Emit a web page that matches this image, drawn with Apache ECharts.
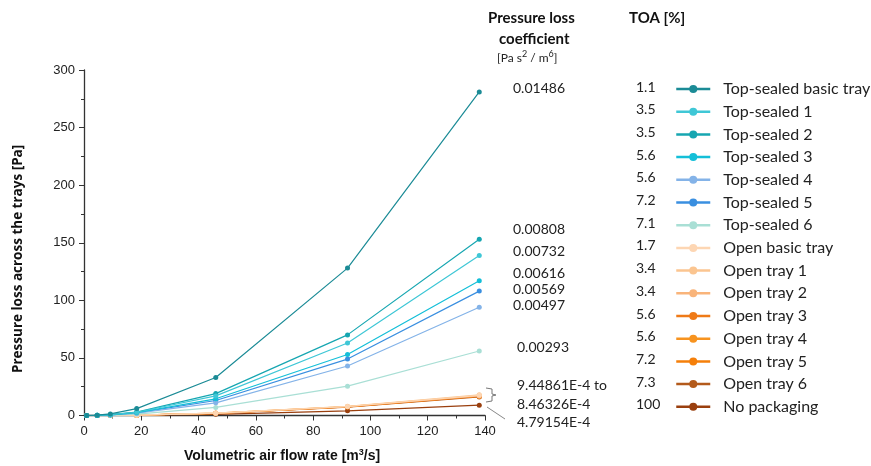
<!DOCTYPE html>
<html>
<head>
<meta charset="utf-8">
<script src="https://cdn.jsdelivr.net/npm/echarts@6/dist/echarts.min.js"></script>
<style>html,body{margin:0;padding:0;background:#fff}#c{width:871px;height:466px}</style>
</head>
<body>
<div id="c"></div>
<script>
const flowRates = [0.92, 4.6, 9.2, 18.4, 46, 92, 138];
const seriesNames = ['Top-sealed basic tray','Top-sealed 1','Top-sealed 2','Top-sealed 3','Top-sealed 4','Top-sealed 5','Top-sealed 6','Open basic tray','Open tray 1','Open tray 2','Open tray 3','Open tray 4','Open tray 5','Open tray 6','No packaging'];
const toaValues = ['1.1','3.5','3.5','5.6','5.6','7.2','7.1','1.7','3.4','3.4','5.6','5.6','7.2','7.3','100'];
const tsBasic = [0, 0.3, 1.4, 6.0, 33, 128, 281];
const ts1 = [0, 0.2, 0.7, 2.8, 17, 63, 139];
const ts2 = [0, 0.2, 0.7, 3.0, 19, 70, 153];
const ts3 = [0, 0.2, 0.6, 2.5, 14.5, 53, 117];
const ts4 = [0, 0.1, 0.5, 2.0, 11, 43, 94];
const ts5 = [0, 0.1, 0.5, 2.2, 13, 49, 108];
const ts6 = [0, 0.1, 0.3, 1.2, 7, 25.5, 56];
const openBasic = [0, 0, 0.1, 0.3, 2.0, 7.8, 17.5];
const open1 = [0, 0, 0.1, 0.3, 2.1, 8.0, 18.0];
const open2 = [0, 0, 0.1, 0.3, 1.9, 7.6, 17.0];
const open3 = [0, 0, 0.1, 0.3, 1.9, 7.4, 16.5];
const open4 = [0, 0, 0.1, 0.3, 2.0, 7.7, 17.2];
const open5 = [0, 0, 0.1, 0.3, 1.9, 7.5, 16.8];
const open6 = [0, 0, 0.1, 0.3, 1.8, 7.2, 16.1];
const noPack = [0, 0, 0.05, 0.2, 1.0, 4.1, 9.0];
const coefLabels = ['0.01486','0.00808','0.00732','0.00616','0.00569','0.00497','0.00293','9.44861E-4 to','8.46326E-4','4.79154E-4'];
const xTicks = [0, 20, 40, 60, 80, 100, 120, 140];
const yTicks = [0, 50, 100, 150, 200, 250, 300];

const allValues = [tsBasic, ts1, ts2, ts3, ts4, ts5, ts6, openBasic, open1, open2, open3, open4, open5, open6, noPack];
const colors = ['#1b8b96','#3fc7d6','#16a6b1','#14bfd8','#84b3e8','#3a8fe0','#a9dfd5','#fdd6b3','#fbc590','#f9b47a','#ef7a17','#f7931f','#f57f0a','#b35a1b','#9a3f0e'];

const chart = echarts.init(document.getElementById('c'), null, {renderer: 'canvas'});

const series = seriesNames.map((name, i) => ({
  name: name,
  type: 'line',
  data: flowRates.map((x, j) => [x, allValues[i][j]]),
  symbol: 'circle',
  symbolSize: 5,
  showSymbol: true,
  lineStyle: {width: 1.2, color: colors[i]},
  itemStyle: {color: colors[i]},
  z: 20 - i,
  animation: false
}));

const legendTop = 81;
const rowH = 22.7;
const FONT = 'Lato, "Open Sans", sans-serif';
const graphics = [];
toaValues.forEach((t, i) => {
  graphics.push({type: 'text', left: 636, top: legendTop + i * rowH - 1,
    style: {text: t, font: '14px ' + FONT, fill: '#222'}});
});
const coefY = [90, 231, 253, 275, 291, 307, 349, 387, 406, 424];
const coefX = [513, 513, 513, 513, 513, 513, 517, 517, 517, 517];
coefLabels.forEach((t, i) => {
  graphics.push({type: 'text', left: coefX[i], top: coefY[i] - 9,
    style: {text: t, font: '14px ' + FONT, fill: '#222'}});
});
graphics.push(
  {type: 'text', left: 488, top: 11, style: {text: 'Pressure loss', font: 'bold 15px ' + FONT, fill: '#111'}},
  {type: 'text', left: 499, top: 32, style: {text: 'coefficient', font: 'bold 15px ' + FONT, fill: '#111'}},
  {type: 'text', left: 497, top: 50, style: {
    text: '[Pa s{sup|2} / m{sup|6}]',
    font: '12px ' + FONT, fill: '#222',
    rich: {sup: {fontSize: 9, fontFamily: 'Lato, "Open Sans", sans-serif', fill: '#222', padding: [0, 0, 7, 0]}}
  }},
  {type: 'text', left: 629, top: 11, style: {text: 'TOA [%]', font: 'bold 15px ' + FONT, fill: '#111'}},
  {type: 'text', left: 184, top: 448, style: {
    text: 'Volumetric air flow rate [m{sup|3}/s]',
    font: 'bold 14px "Liberation Sans Narrow", "Liberation Sans", Arial, sans-serif', fill: '#111',
    rich: {sup: {fontSize: 9, fontWeight: 'bold', fontFamily: '"Liberation Sans", Arial, sans-serif', fill: '#111', padding: [0, 0, 7, 0]}}
  }},
  {type: 'text', x: 11, y: 373, rotation: Math.PI / 2, style: {text: 'Pressure loss across the trays [Pa]', font: 'bold 13.5px "Open Sans", Lato, sans-serif', fill: '#111'}},
  {type: 'polyline', shape: {points: [[486, 388], [492, 389], [492, 394], [496, 395], [492, 396], [492, 401], [486, 402]]}, style: {stroke: '#777', lineWidth: 1, fill: null}},
  {type: 'line', shape: {x1: 487, y1: 407, x2: 505, y2: 419}, style: {stroke: '#888', lineWidth: 1}}
);

chart.setOption({
  backgroundColor: '#fff',
  animation: false,
  grid: {left: 84, top: 70, width: 401, height: 345.5, containLabel: false},
  xAxis: {
    type: 'value', min: 0, max: 140, interval: 20,
    axisLine: {show: true, onZero: false, lineStyle: {color: '#333', width: 1.3}},
    axisTick: {show: true, inside: false, length: 5, lineStyle: {color: '#333'}},
    minorTick: {show: true, splitNumber: 2, length: 3, lineStyle: {color: '#333'}},
    splitLine: {show: false},
    axisLabel: {fontSize: 13, color: '#222', margin: 9, fontFamily: '"Liberation Sans", Arial, sans-serif',
      formatter: v => xTicks.includes(v) ? String(v) : ''}
  },
  yAxis: {
    type: 'value', min: 0, max: 300, interval: 50,
    axisLine: {show: true, onZero: false, lineStyle: {color: '#333', width: 1.3}},
    axisTick: {show: true, inside: false, length: 5, lineStyle: {color: '#333'}},
    minorTick: {show: true, splitNumber: 2, length: 3, lineStyle: {color: '#333'}},
    splitLine: {show: false},
    axisLabel: {fontSize: 13, color: '#222', margin: 9, fontFamily: '"Liberation Sans", Arial, sans-serif',
      formatter: v => yTicks.includes(v) ? String(v) : ''}
  },
  legend: {
    orient: 'vertical', left: 670, top: legendTop - 5, padding: 5,
    itemWidth: 34, itemHeight: 10, itemGap: 6.7,
    lineStyle: {width: 2.5},
    textStyle: {fontSize: 16, color: '#222', fontFamily: FONT, lineHeight: 16, padding: [0, 0, 0, 8]},
    data: seriesNames
  },
  graphic: graphics,
  series: series
});
</script>
</body>
</html>
